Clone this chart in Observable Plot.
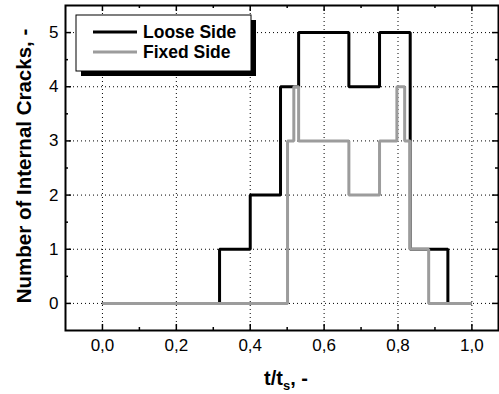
<!DOCTYPE html>
<html><head><meta charset="utf-8">
<script src="https://cdn.jsdelivr.net/npm/d3@7"></script>
<script src="https://cdn.jsdelivr.net/npm/@observablehq/plot@0.6"></script>
<style>
body{margin:0;background:#fff;}
#chart svg{display:block;}
</style></head><body><div id="chart"></div>
<script>
// ---- data ----
const looseT = [0, 0.317, 0.4, 0.482, 0.531, 0.667, 0.75, 0.833, 0.935, 1.0];
const looseN = [0, 1, 2, 4, 5, 4, 5, 1, 0, 0];
const fixedT = [0, 0.501, 0.518, 0.531, 0.667, 0.75, 0.797, 0.818, 0.833, 0.883, 1.0];
const fixedN = [0, 3, 4, 3, 2, 3, 4, 3, 1, 0, 0];
const xTicks = [0, 0.2, 0.4, 0.6, 0.8, 1.0];
const xTickLabels = ["0,0", "0,2", "0,4", "0,6", "0,8", "1,0"];
const xMinor = [0.1, 0.3, 0.5, 0.7, 0.9];
const yTicks = [0, 1, 2, 3, 4, 5];
const yTickLabels = ["0", "1", "2", "3", "4", "5"];
const yMinor = [0.5, 1.5, 2.5, 3.5, 4.5];
const seriesNames = ["Loose Side", "Fixed Side"];
const seriesColors = ["#000000", "#9c9c9c"];
const xTitleParts = ["t/t", "s", ", -"];
const yTitle = "Number of Internal Cracks, -";

// ---- layout ----
const W = 499, H = 394, mL = 65, mR = 1, mT = 5, mB = 64;
const plotH = H - mT - mB, plotW = W - mL - mR;
const FONT = '"Liberation Sans", Arial, Helvetica, sans-serif';
const loose = looseT.map((t, i) => ({t, n: looseN[i]}));
const fixed = fixedT.map((t, i) => ({t, n: fixedN[i]}));

const majorLen = 6, minorLen = 3;
const chart = Plot.plot({
  width: W, height: H,
  marginLeft: mL, marginRight: mR, marginTop: mT, marginBottom: mB,
  style: {fontFamily: FONT, fontSize: "17px", color: "#000", background: "#fff", overflow: "visible"},
  x: {domain: [-0.1, 1.072]},
  y: {domain: [-0.5, 5.5]},
  marks: [
    Plot.ruleX(xTicks, {x: d => d, stroke: "#000", strokeWidth: 1, strokeDasharray: "1,3"}),
    Plot.ruleY(yTicks, {y: d => d, stroke: "#000", strokeWidth: 1, strokeDasharray: "1,3"}),
    Plot.line(loose, {x: "t", y: "n", curve: "step-after", stroke: seriesColors[0], strokeWidth: 3, strokeLinejoin: "miter", strokeLinecap: "butt"}),
    Plot.line(fixed, {x: "t", y: "n", curve: "step-after", stroke: seriesColors[1], strokeWidth: 3, strokeLinejoin: "miter", strokeLinecap: "butt"}),
    // inward ticks, bottom and top
    Plot.tickX(xTicks, {x: d => d, insetTop: plotH - majorLen, strokeWidth: 1.5}),
    Plot.tickX(xTicks, {x: d => d, insetBottom: plotH - majorLen, strokeWidth: 1.5}),
    Plot.tickX(xMinor, {x: d => d, insetTop: plotH - minorLen, strokeWidth: 1.5}),
    Plot.tickX(xMinor, {x: d => d, insetBottom: plotH - minorLen, strokeWidth: 1.5}),
    // inward ticks, left and right
    Plot.tickY(yTicks, {y: d => d, insetRight: plotW - majorLen, strokeWidth: 1.5}),
    Plot.tickY(yTicks, {y: d => d, insetLeft: plotW - majorLen, strokeWidth: 1.5}),
    Plot.tickY(yMinor, {y: d => d, insetRight: plotW - minorLen, strokeWidth: 1.5}),
    Plot.tickY(yMinor, {y: d => d, insetLeft: plotW - minorLen, strokeWidth: 1.5}),
    Plot.frame({stroke: "#000", strokeWidth: 2}),
    Plot.axisX(xTicks, {tickSize: 0, tickPadding: 8, label: null,
      tickFormat: d => xTickLabels[xTicks.indexOf(d)]}),
    Plot.axisY(yTicks, {tickSize: 0, tickPadding: 7, label: null,
      tickFormat: d => yTickLabels[yTicks.indexOf(d)]})
  ]
});
document.getElementById("chart").appendChild(chart);

const svg = d3.select(chart);
// ---- legend ----
const lg = svg.append("g").attr("font-family", FONT).attr("text-anchor", "start");
const lx = 76, ly = 15, lw = 175, lh = 56, sh = 5;
lg.append("rect").attr("x", lx + sh).attr("y", ly + sh).attr("width", lw).attr("height", lh).attr("fill", "#000");
lg.append("rect").attr("x", lx).attr("y", ly).attr("width", lw).attr("height", lh)
  .attr("fill", "#fff").attr("stroke", "#000").attr("stroke-width", 1);
seriesNames.forEach((name, i) => {
  const yy = ly + 17 + i * 20;
  lg.append("line").attr("x1", lx + 17).attr("x2", lx + 61).attr("y1", yy).attr("y2", yy)
    .attr("stroke", seriesColors[i]).attr("stroke-width", 3);
  lg.append("text").attr("x", lx + 67).attr("y", yy + 6).attr("text-anchor", "start")
    .attr("font-size", 17.5).attr("font-weight", "bold").attr("fill", "#000").text(name);
});
// ---- axis titles ----
const xt = svg.append("text").attr("x", 286).attr("y", 385).attr("text-anchor", "middle")
  .attr("font-family", FONT).attr("font-size", 20).attr("font-weight", "bold").attr("fill", "#000");
xt.append("tspan").text(xTitleParts[0]);
xt.append("tspan").attr("font-size", 13).attr("dy", 5).text(xTitleParts[1]);
xt.append("tspan").attr("dy", -5).text(xTitleParts[2]);
svg.append("text").attr("transform", "translate(31,166) rotate(-90)").attr("text-anchor", "middle")
  .attr("font-family", FONT).attr("font-size", 20.5).attr("font-weight", "bold").attr("fill", "#000")
  .text(yTitle);
</script></body></html>
